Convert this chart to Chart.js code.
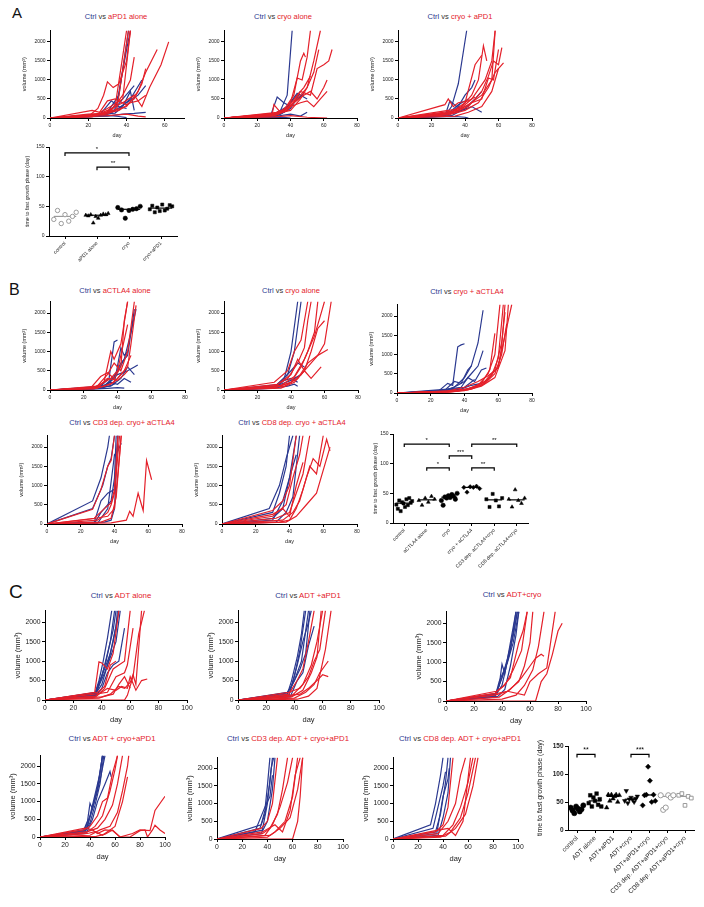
<!DOCTYPE html>
<html>
<head>
<meta charset="utf-8">
<script src="https://cdn.jsdelivr.net/npm/chart.js@4"></script>
<style>
body { margin: 0; background: #fff; }
#fig { position: relative; width: 704px; height: 907px; overflow: hidden; font-family: Arial, "Liberation Sans", Helvetica, sans-serif; }
.lbl { position: absolute; line-height: 1; color: #111; }
.ttl { position: absolute; width: 260px; text-align: center; white-space: nowrap; color: #333; line-height: 1; }
.b { color: #2b3990; }
.r { color: #e4202a; }
canvas { position: absolute; }
</style>
</head>
<body>
<div id="fig"></div>
<script>
// tick labels
const volTicks = [0, 500, 1000, 1500, 2000];
const day70 = [0, 20, 40, 60];
const day80 = [0, 20, 40, 60, 80];
const day100 = [0, 20, 40, 60, 80, 100];
const timeTicks = [0, 50, 100, 150];

// ---- A: tumour volume curves, [day, mm3]
const a1Ctrl = [
    [[0,0],[20,30],[30,100],[35,400],[40,1800],[42,2300]],
    [[0,0],[22,40],[30,150],[36,600],[41,2300]],
    [[0,0],[25,60],[32,120],[38,500],[44,850]],
    [[0,0],[28,90],[34,200],[40,400],[46,600],[50,850]],
    [[0,0],[30,120],[36,250],[42,500],[48,1000]],
    [[0,0],[30,50],[38,100],[44,120],[50,150]],
    [[0,0],[26,80],[32,450],[36,300],[40,250]],
    [[0,0],[30,70],[36,40],[40,10]],
    [[0,0],[34,130],[38,300],[42,700],[44,200]]
];
const a1Trt = [
    [[0,0],[20,40],[25,250],[28,600],[30,950],[33,800],[36,900],[40,1500],[42,2300]],
    [[0,0],[22,30],[30,200],[38,400],[44,600],[48,300],[52,800],[58,1400],[62,2000]],
    [[0,0],[20,50],[30,150],[40,300],[46,700],[50,1200],[56,1800]],
    [[0,0],[24,60],[32,200],[38,600],[42,1000],[44,1600]],
    [[0,0],[25,80],[30,450],[34,500],[40,350],[44,500],[48,900],[50,1300]],
    [[0,0],[28,100],[34,300],[40,2300]],
    [[0,0],[20,100],[30,130],[36,200],[42,400],[46,450],[50,600]],
    [[0,0],[30,60],[40,100],[46,50],[50,30]],
    [[0,0],[22,200],[26,150],[30,250],[38,500],[42,2300]],
    [[0,0],[30,100],[35,250],[41,2300]]
];
const a2Ctrl = [
    [[0,0],[28,50],[34,200],[38,600],[41,2300]],
    [[0,0],[28,60],[32,550],[36,400],[40,300]],
    [[0,0],[30,80],[36,200],[42,500],[46,700]],
    [[0,0],[30,100],[38,300],[44,650],[50,500]],
    [[0,0],[32,60],[38,200],[42,400],[48,650]],
    [[0,0],[30,40],[40,100],[46,50],[50,150]],
    [[0,0],[34,100],[40,250],[45,600]],
    [[0,0],[36,20],[40,0]]
];
const a2Trt = [
    [[0,0],[29,100],[30,350],[34,150],[40,400],[44,1050],[47,1000],[50,1600],[52,2300]],
    [[0,0],[30,60],[38,200],[44,500],[50,800],[54,1500],[58,2300]],
    [[0,0],[32,80],[40,300],[46,700],[52,600],[56,1300],[60,1400],[63,1500],[65,1800]],
    [[0,0],[30,100],[40,200],[46,500],[50,800],[54,1200],[57,1800]],
    [[0,0],[34,120],[42,400],[48,600],[52,700],[56,500],[60,800],[62,1000]],
    [[0,0],[32,150],[40,300],[46,400],[50,450],[54,300],[58,500],[62,700]],
    [[0,0],[28,50],[36,200],[42,600],[46,1500],[48,1700],[49,1600]],
    [[0,0],[30,30],[40,60],[50,20],[62,0]],
    [[0,0],[30,120],[38,250],[44,600],[48,800],[52,1100]]
];
const a3Ctrl = [
    [[0,0],[28,60],[32,300],[36,900],[41,2300]],
    [[0,0],[28,50],[31,450],[35,300],[40,200]],
    [[0,0],[30,80],[36,300],[40,600],[44,800],[46,1000]],
    [[0,0],[30,100],[38,200],[44,300],[50,150]],
    [[0,0],[32,60],[40,250],[46,500],[50,700]],
    [[0,0],[34,40],[40,20],[42,0]],
    [[0,0],[30,120],[36,350],[42,500]]
];
const a3Trt = [
    [[0,0],[28,350],[30,500],[33,300],[36,400],[42,450],[46,550]],
    [[0,0],[30,100],[38,300],[44,600],[48,1000],[51,1900],[53,1500]],
    [[0,0],[32,150],[40,400],[46,1400],[50,1650]],
    [[0,0],[36,200],[44,500],[52,1000],[56,1500],[58,2300]],
    [[0,0],[34,150],[42,300],[50,700],[54,1100],[57,1500],[60,1400],[62,1850]],
    [[0,0],[30,80],[40,200],[48,400],[54,800],[58,1200],[63,1450]],
    [[0,0],[32,120],[42,350],[50,600],[56,1000],[58,2300]],
    [[0,0],[30,200],[38,250],[44,400],[50,500],[54,1050],[57,1000],[60,1800]],
    [[0,0],[34,50],[42,150],[50,300],[56,700],[60,1300]]
];
const aCats = ['control', 'aPD1 alone', 'cryo', 'cryo+aPD1'];
const aTimes = [
    [28, 43, 21, 36, 25, 33, 40],
    [35, 34, 36, 22, 33, 30, 35, 37, 36, 38],
    [48, 44, 30, 43, 45, 46, 50],
    [45, 51, 40, 48, 42, 53, 43, 46, 52, 50]
];
const aSig = [[0, 2, 140, '*'], [1, 2, 116, '**']];

// ---- B
const b1Ctrl = [
    [[0,0],[24,40],[30,100],[35,300],[38,1250],[40,1300]],
    [[0,0],[25,30],[32,80],[38,300],[44,800],[48,1500],[51,2100]],
    [[0,0],[26,50],[34,150],[40,400],[46,500],[50,600],[52,650]],
    [[0,0],[28,60],[36,100],[42,300],[46,600],[50,400]],
    [[0,0],[30,40],[38,150],[42,1100],[44,900],[46,1000]],
    [[0,0],[30,70],[36,200],[40,150],[44,300],[48,200]],
    [[0,0],[24,20],[34,40],[40,60],[44,50]],
    [[0,0],[32,100],[38,350],[42,700],[46,900],[50,2100]]
];
const b1Trt = [
    [[0,0],[24,50],[30,350],[34,450],[38,300],[42,600],[44,1800],[46,2300]],
    [[0,0],[26,60],[32,200],[36,1000],[38,800],[42,1200],[46,2300]],
    [[0,0],[24,40],[30,150],[36,300],[40,500],[44,1300],[46,1700]],
    [[0,0],[28,100],[34,400],[38,700],[42,500],[46,1000],[50,2300]],
    [[0,0],[26,30],[32,100],[38,200],[42,400],[46,600],[48,1200],[51,2200]],
    [[0,0],[28,50],[34,300],[40,250],[44,400],[46,500]],
    [[0,0],[30,80],[36,150],[40,300],[44,500],[48,900]]
];
const b2Ctrl = [
    [[0,0],[30,60],[36,300],[40,1000],[44,2300]],
    [[0,0],[30,80],[38,400],[42,1000],[46,2300]],
    [[0,0],[32,100],[36,250],[40,300],[44,200]],
    [[0,0],[30,50],[40,500],[44,700],[48,600]],
    [[0,0],[34,150],[40,250],[46,400]],
    [[0,0],[28,40],[38,100],[42,150],[44,100]]
];
const b2Trt = [
    [[0,0],[30,100],[38,300],[44,700],[48,1100],[50,1800],[52,2300]],
    [[0,0],[32,80],[40,200],[46,600],[50,1000],[54,1500],[56,2300]],
    [[0,0],[34,120],[42,350],[48,800],[54,1400],[58,2000],[60,2300]],
    [[0,0],[30,60],[40,200],[46,400],[50,600],[56,900],[60,1200],[64,2300]],
    [[0,0],[32,150],[40,400],[44,800],[48,500],[52,1000],[56,1600],[60,1800]],
    [[0,0],[36,100],[44,300],[50,700],[56,900],[60,1000],[62,1050]],
    [[0,0],[30,200],[38,500],[42,1000],[46,1300],[50,2300]],
    [[0,0],[34,50],[42,200],[48,500],[52,300],[58,600]]
];
const b3Ctrl = [
    [[0,0],[24,30],[30,250],[33,200],[36,1200],[38,1250],[40,1280]],
    [[0,0],[26,50],[34,150],[40,400],[44,700],[48,1300],[51,2150]],
    [[0,0],[28,40],[36,200],[40,300],[44,500],[48,700],[51,1100]],
    [[0,0],[30,100],[38,150],[42,400],[46,300],[50,600],[53,650]],
    [[0,0],[28,60],[34,300],[38,250],[42,600],[44,700]],
    [[0,0],[32,80],[38,100],[44,200],[50,250]],
    [[0,0],[24,20],[34,100],[40,150],[46,350]]
];
const b3Trt = [
    [[0,0],[30,30],[40,80],[48,200],[54,500],[58,1000],[61,2300]],
    [[0,0],[32,40],[42,100],[50,250],[55,600],[58,1550]],
    [[0,0],[30,20],[40,60],[50,200],[56,450],[60,900],[63,2300]],
    [[0,0],[34,50],[44,120],[52,300],[58,600],[62,1300],[64,2100]],
    [[0,0],[30,40],[42,80],[50,180],[58,400],[64,1100],[66,2300]],
    [[0,0],[36,60],[46,150],[54,350],[60,700],[64,1500],[68,2300]],
    [[0,0],[32,30],[44,100],[52,250],[58,500],[62,1000],[65,1800]],
    [[0,0],[30,50],[40,150],[48,300],[54,450],[60,650],[62,1200],[64,2300]]
];
const b4Ctrl = [
    [[0,0],[27,600],[32,1200],[36,2000],[37,2300]],
    [[0,0],[27,400],[33,1000],[36,1500],[38,1700],[40,2300]],
    [[0,0],[28,50],[32,600],[36,800],[40,900],[42,2300]],
    [[0,0],[28,10],[32,300],[38,600],[40,1200],[41,2300]],
    [[0,0],[30,20],[36,400],[40,1800],[42,1900],[44,2100]],
    [[0,0],[34,50],[38,100],[40,400],[42,2300]]
];
const b4Trt = [
    [[0,0],[27,380],[32,900],[36,1500],[38,1650],[40,2300]],
    [[0,0],[28,150],[34,400],[38,550],[40,900],[42,2300]],
    [[0,0],[30,100],[36,300],[38,500],[40,800],[43,2300]],
    [[0,0],[26,130],[36,200],[40,400],[42,1300],[44,2300]],
    [[0,0],[38,30],[47,100],[49,330],[51,200],[54,800],[57,350],[59,1650],[62,1150]],
    [[0,0],[32,50],[38,150],[41,700],[44,2300]]
];
const b5Ctrl = [
    [[0,0],[30,300],[34,800],[38,1500],[40,2300]],
    [[0,0],[28,400],[34,1000],[38,1700],[42,2300]],
    [[0,0],[30,150],[36,400],[40,1200],[44,2300]],
    [[0,0],[30,100],[36,600],[38,900],[42,1500],[44,1800]],
    [[0,0],[32,50],[38,300],[42,700],[46,2300]]
];
const b5Trt = [
    [[0,0],[30,350],[36,600],[40,1000],[44,2300]],
    [[0,0],[30,200],[38,500],[42,1200],[46,1800],[48,2300]],
    [[0,0],[32,150],[40,300],[44,800],[48,1300],[52,2300]],
    [[0,0],[34,50],[40,100],[44,400],[48,900],[52,1500],[56,1300],[60,2300]],
    [[0,0],[36,100],[42,300],[46,600],[50,1200],[54,1700],[58,1500],[62,2200],[64,1900]],
    [[0,0],[30,250],[36,400],[40,200],[44,1000],[48,1600]],
    [[0,0],[38,50],[44,200],[50,500],[56,800],[60,1400],[64,2000]]
];
const bCats = ['control', 'aCTLA4 alone', 'cryo', 'cryo + aCTLA4', 'CD3 dep. aCTLA4+cryo', 'CD8 dep. aCTLA4+cryo'];
const bTimes = [
    [31, 24, 38, 20, 35, 33, 27, 40, 30, 42, 34, 37],
    [38, 30, 42, 35, 45, 40],
    [38, 30, 44, 42, 46, 43, 48, 45, 40, 50],
    [60, 52, 61, 60, 62, 58],
    [40, 27, 49, 38, 28, 42],
    [40, 27, 56, 38, 33, 42]
];
const bSig = [[0, 2, 133, '*'], [3, 5, 133, '**'], [2, 3, 113, '***'], [1, 2, 93, '*'], [3, 4, 93, '**']];

// ---- C
const c1Ctrl = [
    [[0,0],[35,150],[38,500],[41,1000],[44,1600],[47,2300]],
    [[0,0],[35,120],[40,600],[44,1200],[48,1800],[50,2300]],
    [[0,0],[36,180],[40,400],[44,900],[48,1500],[52,2300]],
    [[0,0],[35,100],[38,450],[42,800],[46,1200],[50,1900],[51,2300]],
    [[0,0],[36,200],[42,700],[46,1100],[50,1500],[53,2300]],
    [[0,0],[35,80],[40,300],[44,700],[48,900],[52,1000],[56,1850]],
    [[0,0],[36,150],[39,500],[43,1000],[46,1500],[49,2300]]
];
const c1Trt = [
    [[0,0],[35,200],[38,980],[40,950],[44,800],[48,1200],[52,2300]],
    [[0,0],[36,100],[42,300],[48,800],[52,900],[56,1000],[60,2300]],
    [[0,0],[35,150],[44,200],[50,600],[56,700],[58,900],[62,1850]],
    [[0,0],[38,50],[46,150],[52,350],[56,300],[60,450],[62,650],[64,400],[68,2300]],
    [[0,0],[36,100],[44,300],[50,250],[54,350],[58,300],[60,600],[64,250],[68,500],[72,540]],
    [[0,0],[40,80],[48,150],[52,400],[56,600],[60,300]],
    [[0,0],[56,0],[58,120],[62,600],[66,1700],[70,2300]],
    [[0,0],[37,200],[42,350],[46,900],[50,1000]]
];
const c2Ctrl = [
    [[0,0],[35,150],[38,500],[42,1100],[45,1700],[47,2300]],
    [[0,0],[36,120],[40,600],[44,1300],[48,2300]],
    [[0,0],[35,180],[40,500],[45,1000],[50,2300]],
    [[0,0],[36,100],[42,900],[46,1500],[50,2000],[52,2300]],
    [[0,0],[35,200],[38,350],[44,800],[48,1200],[51,2300]],
    [[0,0],[37,80],[42,500],[46,700],[50,1400],[54,1900]]
];
const c2Trt = [
    [[0,0],[36,150],[42,500],[46,800],[50,1500],[54,2300]],
    [[0,0],[38,100],[46,400],[52,900],[56,1500],[60,2300]],
    [[0,0],[36,200],[44,300],[50,600],[54,1000],[58,1300],[62,2300]],
    [[0,0],[40,50],[48,200],[54,400],[58,700],[62,900],[64,1000]],
    [[0,0],[36,120],[44,150],[50,300],[56,500],[60,650],[64,600]],
    [[0,0],[38,80],[46,250],[52,700],[56,1100],[59,2300]],
    [[0,0],[42,20],[50,100],[56,300],[62,1300],[66,2300]]
];
const c3Ctrl = [
    [[0,0],[35,150],[38,400],[40,950],[42,700],[46,1500],[50,2300]],
    [[0,0],[35,120],[40,600],[44,1100],[48,1700],[51,2300]],
    [[0,0],[36,200],[42,800],[46,1300],[50,2300]],
    [[0,0],[35,100],[38,500],[44,1000],[48,1500],[52,2300]],
    [[0,0],[36,180],[40,400],[45,1200],[48,1700],[51,2300]],
    [[0,0],[37,120],[42,300],[46,900],[50,1700],[52,2300]]
];
const c3Trt = [
    [[0,0],[35,200],[40,350],[46,600],[52,1500],[55,1800],[58,2300]],
    [[0,0],[36,250],[42,400],[48,800],[54,1300],[58,2300]],
    [[0,0],[35,150],[44,250],[52,500],[56,900],[60,1500],[62,2300]],
    [[0,0],[38,100],[46,300],[54,600],[60,900],[64,1100],[68,1200],[70,1150]],
    [[0,0],[40,50],[50,150],[56,400],[62,800],[66,1400],[70,2300]],
    [[0,0],[37,200],[44,250],[56,150],[60,500],[66,700],[72,850],[78,2300]],
    [[0,0],[64,0],[68,500],[72,700],[76,1200],[80,1800],[83,2000]]
];
const c4Ctrl = [
    [[0,0],[35,200],[38,450],[40,950],[42,800],[46,1400],[50,2300]],
    [[0,0],[35,150],[40,600],[44,1200],[48,1800],[50,2300]],
    [[0,0],[36,120],[42,800],[46,1300],[50,2300]],
    [[0,0],[35,180],[38,300],[44,1100],[48,1600],[52,2300]],
    [[0,0],[37,100],[42,500],[46,1000],[52,1500],[56,1850],[57,1700]],
    [[0,0],[36,150],[40,400],[44,900],[48,1500],[51,2300]]
];
const c4Trt = [
    [[0,0],[35,200],[40,300],[46,600],[50,1000],[54,1100],[58,1800],[62,2300]],
    [[0,0],[36,100],[44,300],[50,600],[56,1300],[60,1900],[62,2300]],
    [[0,0],[38,150],[46,250],[52,500],[58,900],[62,1500],[66,2300]],
    [[0,0],[40,50],[48,200],[56,300],[62,700],[66,1300],[70,2000],[71,2300]],
    [[0,0],[36,250],[42,200],[46,100],[52,200],[58,180],[64,0],[72,0],[80,180],[84,200],[86,0],[90,200],[92,330],[96,200],[100,100]],
    [[0,0],[45,20],[52,80],[58,200],[64,0],[74,100],[80,200],[88,180],[92,750],[100,1150]],
    [[0,0],[38,100],[44,150],[50,50],[56,200],[60,300],[66,1000],[70,1700]]
];
const c5Ctrl = [
    [[0,0],[35,400],[38,800],[40,1500],[42,2300]],
    [[0,0],[34,300],[38,700],[42,1600],[44,2300]],
    [[0,0],[36,250],[40,1000],[43,2000],[45,2300]],
    [[0,0],[35,150],[40,500],[44,1400],[46,2300]],
    [[0,0],[30,200],[38,900],[42,1200],[44,1800]]
];
const c5Trt = [
    [[0,0],[35,300],[40,500],[44,1000],[48,2300]],
    [[0,0],[36,150],[42,300],[48,700],[52,1400],[56,2300]],
    [[0,0],[38,100],[44,400],[50,900],[56,1600],[60,2300]],
    [[0,0],[40,50],[46,200],[54,500],[60,1200],[64,2300]],
    [[0,0],[42,100],[50,300],[58,600],[64,1400],[68,2300]],
    [[0,0],[36,200],[46,400],[52,200],[58,800],[62,1800],[66,2300]],
    [[0,0],[60,0],[64,500],[66,1200],[68,2300]]
];
const c6Ctrl = [
    [[0,0],[30,400],[34,1000],[38,1800],[40,2300]],
    [[0,0],[32,300],[36,900],[40,1500],[42,1900]],
    [[0,0],[34,200],[38,700],[42,1600],[44,2300]],
    [[0,0],[35,150],[40,1200],[44,1700],[45,2000]],
    [[0,0],[36,100],[40,600],[44,1300],[46,2300]]
];
const c6Trt = [
    [[0,0],[34,200],[40,400],[44,900],[48,2300]],
    [[0,0],[36,150],[44,500],[50,1000],[54,1800],[58,2300]],
    [[0,0],[40,100],[48,400],[54,900],[60,1600],[64,2300]],
    [[0,0],[38,50],[46,200],[54,600],[60,1300],[66,2300]],
    [[0,0],[42,80],[50,300],[58,700],[64,1500],[68,2300]],
    [[0,0],[36,250],[44,300],[50,100],[56,500],[62,2300]]
];
const cCats = ['control', 'ADT alone', 'ADT+aPD1', 'ADT+cryo', 'ADT+aPD1+cryo', 'CD3 dep. ADT+aPD1+cryo', 'CD8 dep. ADT+aPD1+cryo'];
const cTimes = [
    [40, 35, 30, 42, 38, 33, 37, 44],
    [48, 62, 42, 58, 52, 65, 45, 55, 42],
    [40, 63, 52, 63, 56, 60, 63, 50, 62],
    [52, 70, 48, 55, 58, 54, 50, 56, 60],
    [44, 62, 63, 113, 88, 50, 63, 52],
    [62, 36, 40, 62, 58, 62],
    [62, 65, 44, 60, 57]
];
const cSig = [[0, 1, 135, '**'], [3, 4, 135, '***']];

const BLUE = '#2b3990', RED = '#e4202a', GREY = '#9a9a9a';
const FONT = 'Arial, "Liberation Sans", Helvetica, sans-serif';
Chart.defaults.font.family = FONT;
Chart.defaults.color = '#222';

const fig = document.getElementById('fig');

function mk(box, pad) {
    const c = document.createElement('canvas');
    const w = box[2] - box[0] + pad.l + pad.r, h = box[3] - box[1] + pad.t + pad.b;
    c.width = w; c.height = h;
    c.style.left = (box[0] - pad.l) + 'px';
    c.style.top = (box[1] - pad.t) + 'px';
    c.style.width = w + 'px';
    c.style.height = h + 'px';
    fig.appendChild(c);
    return c;
}

function text(html, cls, x, y, size) {
    const d = document.createElement('div');
    d.className = cls;
    d.innerHTML = html;
    d.style.fontSize = size + 'px';
    if (cls == 'ttl') {
        d.style.left = (x - 130) + 'px';
        d.style.top = (y - size * 0.55) + 'px';
    } else {
        d.style.left = x + 'px';
        d.style.top = y + 'px';
    }
    fig.appendChild(d);
}

function axis(min, max, ticks, title, f, fit, fmt) {
    return {
        type: 'linear', min: min, max: max,
        afterBuildTicks: s => { s.ticks = ticks.map(v => ({value: v})); },
        afterFit: fit,
        grid: {drawOnChartArea: false, color: '#000', tickLength: 3, lineWidth: 1},
        border: {color: '#000', width: 1},
        ticks: {font: {size: f.tick, weight: f.bold ? 'bold' : 'normal'}, color: '#222', padding: 1.5, maxRotation: 0, autoSkip: false,
                callback: fmt || (v => String(v))},
        title: {display: title != '', text: title, font: {size: f.title}, color: '#222', padding: 0}
    };
}

function series(s, col) {
    return {data: s.map(p => ({x: p[0], y: p[1]})), borderColor: col, borderWidth: 1.2,
            pointRadius: 0, tension: 0, fill: false};
}

function volChart(box, xmax, dayTicks, trt, ctrl, f) {
    const c = mk(box, {l: f.yw, r: 12, t: 3, b: f.xh});
    const sets = trt.map(s => series(s, RED)).concat(ctrl.map(s => series(s, BLUE)));
    new Chart(c, {
        type: 'line',
        data: {datasets: sets},
        options: {
            responsive: false, animation: false, events: [],
            layout: {padding: {top: 3, right: 12, left: 0, bottom: 0}},
            plugins: {legend: {display: false}, tooltip: {enabled: false}},
            scales: {
                x: axis(0, xmax, dayTicks, 'day', f, s => { s.height = f.xh; }),
                y: axis(0, 2300, volTicks, 'volume (mm³)', f, s => { s.width = f.yw; })
            }
        }
    });
}

const brackets = {
    id: 'brackets',
    afterDatasetsDraw(chart, args, opts) {
        const ctx = chart.ctx, x = chart.scales.x, y = chart.scales.y;
        ctx.save();
        ctx.strokeStyle = '#000';
        ctx.fillStyle = '#000';
        ctx.lineWidth = 1.2;
        ctx.font = opts.size + 'px ' + FONT;
        ctx.textAlign = 'center';
        ctx.textBaseline = 'bottom';
        opts.list.forEach(b => {
            const x1 = x.getPixelForValue(b[0]), x2 = x.getPixelForValue(b[1]), yy = y.getPixelForValue(b[2]);
            ctx.beginPath();
            ctx.moveTo(x1, yy + 3); ctx.lineTo(x1, yy); ctx.lineTo(x2, yy); ctx.lineTo(x2, yy + 3);
            ctx.stroke();
            ctx.fillText(b[3], (x1 + x2) / 2, yy - 0.5);
        });
        ctx.restore();
    }
};

function median(v) {
    const s = v.slice().sort((a, b) => a - b), n = s.length;
    return n % 2 ? s[(n - 1) / 2] : (s[n / 2 - 1] + s[n / 2]) / 2;
}

// marks: [pointStyle, open?, rotation]
function dotChart(box, cats, groups, marks, sig, f) {
    const c = mk(box, {l: f.yw, r: 6, t: 10, b: f.xh});
    const sets = [];
    groups.forEach((vals, i) => {
        const m = marks[i], n = vals.length;
        const col = m[1] ? GREY : '#000';
        sets.push({
            data: vals.map((v, k) => ({x: i + (n > 1 ? (k / (n - 1) - 0.5) * 0.7 : 0), y: v})),
            pointStyle: m[0], rotation: m[2] || 0, pointRadius: f.dot,
            backgroundColor: m[1] ? '#fff' : '#000', borderColor: col, borderWidth: m[1] ? 1 : 0.5
        });
        const md = median(vals);
        sets.push({
            showLine: true,
            data: [{x: i - 0.35, y: md}, {x: i + 0.35, y: md}],
            borderColor: col, borderWidth: 1.2, pointRadius: 0
        });
    });
    const xAxis = axis(-0.5, cats.length - 0.5, cats.map((c, i) => i), '', f, s => { s.height = f.xh; }, (v, i) => cats[i]);
    xAxis.ticks.font = {size: f.tick};
    xAxis.ticks.minRotation = 45;
    xAxis.ticks.maxRotation = 45;
    new Chart(c, {
        type: 'scatter',
        data: {datasets: sets},
        plugins: [brackets],
        options: {
            responsive: false, animation: false, events: [],
            layout: {padding: {top: 10, right: 6, left: 0, bottom: 0}},
            plugins: {legend: {display: false}, tooltip: {enabled: false}, brackets: {list: sig, size: f.star}},
            scales: {
                x: xAxis,
                y: axis(0, 150, timeTicks, 'time to fast growth phase (day)', f, s => { s.width = f.yw; })
            }
        }
    });
}

const fAB = {tick: 5, title: 5.5, yw: 29, xh: 21};
const fC = {tick: 6.8, title: 7.5, yw: 32, xh: 24};

// panel letters
text('A', 'lbl', 12, 5, 15);
text('B', 'lbl', 9, 282, 16);
text('C', 'lbl', 9, 582, 19);

function ttl(x, y, what, size) {
    text('<span class="b">Ctrl</span> vs <span class="r">' + what + '</span>', 'ttl', x, y, size);
}

// A
ttl(116, 17, 'aPD1 alone', 7.5);
ttl(283, 17, 'cryo alone', 7.5);
ttl(460, 17, 'cryo + aPD1', 7.5);
volChart([50, 29, 184, 118], 70, day70, a1Trt, a1Ctrl, fAB);
volChart([224, 29, 357, 118], 80, day80, a2Trt, a2Ctrl, fAB);
volChart([398, 29, 532, 118], 80, day80, a3Trt, a3Ctrl, fAB);
dotChart([49, 147, 177, 236], aCats, aTimes,
    [['circle', true], ['triangle', false], ['circle', false], ['rect', false]], aSig,
    {tick: 5, title: 5.2, yw: 25, xh: 45, dot: 2.2, star: 6});

// B
ttl(115, 291, 'aCTLA4 alone', 7.5);
ttl(291, 291, 'cryo alone', 7.5);
ttl(467, 292, 'cryo + aCTLA4', 7.5);
ttl(122, 423, 'CD3 dep. cryo+ aCTLA4', 7.5);
ttl(292, 423, 'CD8 dep. cryo + aCTLA4', 7.5);
volChart([50, 300, 185, 390], 80, day80, b1Trt, b1Ctrl, fAB);
volChart([224, 300, 358, 390], 80, day80, b2Trt, b2Ctrl, fAB);
volChart([397, 303, 532, 393], 80, day80, b3Trt, b3Ctrl, fAB);
volChart([47, 434, 182, 524], 80, day80, b4Trt, b4Ctrl, fAB);
volChart([222, 434, 357, 524], 80, day80, b5Trt, b5Ctrl, fAB);
dotChart([393, 434, 528, 523], bCats, bTimes,
    [['rect', false], ['triangle', false], ['circle', false], ['rectRot', false], ['rect', false], ['triangle', false]], bSig,
    {tick: 5, title: 5.2, yw: 21, xh: 60, dot: 2.2, star: 6});

// C
ttl(121, 596, 'ADT alone', 7.8);
ttl(308, 596, 'ADT +aPD1', 7.8);
ttl(512, 595, 'ADT+cryo', 7.8);
ttl(112, 739, 'ADT + cryo+aPD1', 7.8);
ttl(288, 739, 'CD3 dep. ADT + cryo+aPD1', 7.8);
ttl(460, 739, 'CD8 dep. ADT + cryo+aPD1', 7.8);
volChart([45, 608, 187, 700], 100, day100, c1Trt, c1Ctrl, fC);
volChart([238, 608, 379, 700], 100, day100, c2Trt, c2Ctrl, fC);
volChart([446, 609, 586, 701], 100, day100, c3Trt, c3Ctrl, fC);
volChart([40, 753, 165, 837], 100, day100, c4Trt, c4Ctrl, fC);
volChart([217, 755, 343, 839], 100, day100, c5Trt, c5Ctrl, fC);
volChart([393, 755, 518, 839], 100, day100, c6Trt, c6Ctrl, fC);
dotChart([568, 746, 694, 830], cCats, cTimes,
    [['circle', false], ['rect', false], ['triangle', false], ['triangle', false, 180], ['rectRot', false], ['circle', true], ['rect', true]], cSig,
    {tick: 6.5, title: 7, yw: 32, xh: 75, dot: 2.6, star: 7, bold: true});
</script>
</body>
</html>
